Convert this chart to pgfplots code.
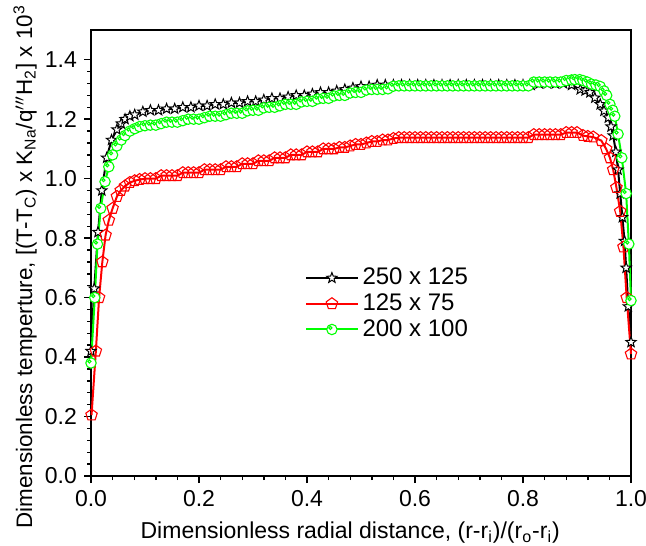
\documentclass[border=0pt]{standalone}
\usepackage{fontspec}
\setmainfont{Liberation Sans}
\usepackage{pgfplots}
\pgfplotsset{compat=1.18}

% circle with a small highlight ring inside (Origin style)
\pgfdeclareplotmark{dotcircle}{%
  \pgfpathcircle{\pgfpointorigin}{\pgfplotmarksize}\pgfusepathqfillstroke
  \pgfpathcircle{\pgfpoint{-0.3\pgfplotmarksize}{0.3\pgfplotmarksize}}{0.3\pgfplotmarksize}\pgfusepathqstroke}
% open five-pointed star
\pgfdeclareplotmark{ostar}{%
  \pgfpathmoveto{\pgfpointpolar{90}{\pgfplotmarksize}}%
  \pgfpathlineto{\pgfpointpolar{126}{0.42\pgfplotmarksize}}%
  \pgfpathlineto{\pgfpointpolar{162}{\pgfplotmarksize}}%
  \pgfpathlineto{\pgfpointpolar{198}{0.42\pgfplotmarksize}}%
  \pgfpathlineto{\pgfpointpolar{234}{\pgfplotmarksize}}%
  \pgfpathlineto{\pgfpointpolar{270}{0.42\pgfplotmarksize}}%
  \pgfpathlineto{\pgfpointpolar{306}{\pgfplotmarksize}}%
  \pgfpathlineto{\pgfpointpolar{342}{0.42\pgfplotmarksize}}%
  \pgfpathlineto{\pgfpointpolar{18}{\pgfplotmarksize}}%
  \pgfpathlineto{\pgfpointpolar{54}{0.42\pgfplotmarksize}}%
  \pgfpathclose\pgfusepathqfillstroke}

\definecolor{oriRed}{RGB}{255,0,0}
\definecolor{oriGreen}{RGB}{0,255,0}

\pgfplotstableread{
x y
0.000 0.42
0.006 0.63
0.013 0.82
0.020 0.96
0.029 1.07
0.038 1.13
0.048 1.165
0.056 1.185
0.063 1.20
0.072 1.21
0.081 1.215
0.096 1.225
0.110 1.23
0.125 1.23
0.140 1.235
0.155 1.235
0.170 1.24
0.185 1.24
0.200 1.245
0.215 1.245
0.230 1.25
0.245 1.25
0.260 1.255
0.275 1.255
0.290 1.26
0.305 1.26
0.320 1.265
0.335 1.27
0.350 1.27
0.365 1.275
0.380 1.28
0.395 1.28
0.410 1.285
0.425 1.29
0.440 1.29
0.455 1.295
0.470 1.30
0.485 1.305
0.500 1.31
0.515 1.31
0.530 1.315
0.545 1.315
0.560 1.315
0.575 1.315
0.590 1.315
0.605 1.315
0.620 1.315
0.635 1.315
0.650 1.315
0.665 1.315
0.680 1.315
0.695 1.315
0.710 1.315
0.725 1.315
0.740 1.315
0.755 1.315
0.770 1.315
0.785 1.315
0.800 1.315
0.815 1.315
0.830 1.32
0.845 1.32
0.860 1.32
0.875 1.32
0.890 1.315
0.906 1.30
0.915 1.296
0.924 1.29
0.933 1.272
0.943 1.25
0.950 1.228
0.958 1.205
0.963 1.175
0.967 1.145
0.972 1.09
0.976 1.03
0.980 0.95
0.984 0.87
0.988 0.79
0.991 0.70
0.995 0.57
1.000 0.45
}\blackdata

\pgfplotstableread{
x y
0.001 0.205
0.009 0.42
0.015 0.60
0.021 0.72
0.027 0.81
0.033 0.86
0.040 0.90
0.048 0.94
0.055 0.96
0.063 0.975
0.072 0.987
0.081 0.993
0.090 0.997
0.10 1.00
0.11 1.00
0.12 1.00
0.13 1.01
0.14 1.01
0.15 1.01
0.16 1.01
0.17 1.02
0.18 1.02
0.19 1.02
0.20 1.02
0.21 1.03
0.22 1.03
0.23 1.03
0.24 1.03
0.25 1.04
0.26 1.04
0.27 1.04
0.28 1.05
0.29 1.05
0.30 1.05
0.31 1.06
0.32 1.06
0.33 1.06
0.34 1.07
0.35 1.07
0.36 1.07
0.37 1.08
0.38 1.08
0.39 1.08
0.40 1.09
0.41 1.09
0.42 1.09
0.43 1.10
0.44 1.10
0.45 1.10
0.46 1.105
0.47 1.105
0.48 1.11
0.49 1.115
0.50 1.115
0.51 1.12
0.52 1.125
0.53 1.125
0.54 1.13
0.55 1.13
0.56 1.135
0.57 1.138
0.58 1.138
0.59 1.138
0.60 1.138
0.61 1.138
0.62 1.138
0.63 1.138
0.64 1.138
0.65 1.138
0.66 1.138
0.67 1.138
0.68 1.138
0.69 1.138
0.70 1.138
0.71 1.138
0.72 1.138
0.73 1.138
0.74 1.138
0.75 1.138
0.76 1.138
0.77 1.138
0.78 1.138
0.79 1.138
0.80 1.138
0.81 1.138
0.82 1.148
0.83 1.148
0.84 1.148
0.85 1.148
0.86 1.148
0.87 1.148
0.88 1.155
0.89 1.155
0.90 1.155
0.911 1.145
0.920 1.142
0.930 1.14
0.945 1.128
0.954 1.10
0.961 1.07
0.967 1.03
0.973 0.97
0.980 0.89
0.986 0.77
0.992 0.60
1.000 0.41
}\reddata

\pgfplotstableread{
x y
0.000 0.38
0.007 0.60
0.012 0.78
0.018 0.90
0.026 0.99
0.033 1.04
0.040 1.08
0.048 1.11
0.056 1.13
0.063 1.145
0.072 1.16
0.081 1.168
0.090 1.175
0.10 1.178
0.11 1.18
0.12 1.18
0.13 1.185
0.14 1.19
0.15 1.19
0.16 1.19
0.17 1.195
0.18 1.20
0.19 1.20
0.20 1.20
0.21 1.205
0.22 1.21
0.23 1.21
0.24 1.21
0.25 1.215
0.26 1.22
0.27 1.22
0.28 1.22
0.29 1.228
0.30 1.23
0.31 1.23
0.32 1.238
0.33 1.24
0.34 1.24
0.35 1.245
0.36 1.25
0.37 1.25
0.38 1.25
0.39 1.258
0.40 1.26
0.41 1.26
0.42 1.268
0.43 1.27
0.44 1.27
0.45 1.278
0.46 1.28
0.47 1.28
0.48 1.288
0.49 1.29
0.50 1.29
0.51 1.298
0.52 1.30
0.53 1.30
0.54 1.30
0.55 1.302
0.56 1.311
0.57 1.312
0.58 1.312
0.59 1.312
0.60 1.312
0.61 1.312
0.62 1.312
0.63 1.312
0.64 1.312
0.65 1.312
0.66 1.312
0.67 1.312
0.68 1.312
0.69 1.312
0.70 1.312
0.71 1.312
0.72 1.312
0.73 1.312
0.74 1.312
0.75 1.312
0.76 1.312
0.77 1.312
0.78 1.312
0.79 1.312
0.80 1.312
0.81 1.312
0.82 1.325
0.83 1.325
0.84 1.325
0.85 1.325
0.86 1.325
0.87 1.325
0.88 1.33
0.89 1.332
0.896 1.333
0.905 1.333
0.911 1.33
0.919 1.325
0.927 1.318
0.935 1.315
0.943 1.31
0.950 1.295
0.955 1.28
0.961 1.25
0.966 1.23
0.970 1.21
0.976 1.15
0.983 1.07
0.991 0.95
0.996 0.78
1.000 0.59
}\greendata

\begin{document}
\begin{tikzpicture}
\begin{axis}[
  scale only axis, width=270pt, height=223pt,
  xmin=0, xmax=1, ymin=0, ymax=1.5,
  xtick={0,0.2,...,1.0}, ytick={0,0.2,...,1.4},
  minor x tick num=4, minor y tick num=4,
  xtick pos=bottom, ytick pos=left, tick align=outside,
  major tick length=3.5pt, minor tick length=2pt,
  axis line style={line width=0.9pt},
  every tick/.style={black, line width=0.7pt},
  tick label style={font=\fontsize{11.5}{13}\selectfont},
  xticklabel style={/pgf/number format/.cd, fixed, fixed zerofill, precision=1, assume math mode=true},
  yticklabel style={/pgf/number format/.cd, fixed, fixed zerofill, precision=1, assume math mode=true},
  xlabel={Dimensionless radial distance, (r-r\textsubscript{i})/(r\textsubscript{o}-r\textsubscript{i})},
  ylabel={Dimensionless temperture, [(T-T\textsubscript{C}) x K\textsubscript{Na}/q\textsuperscript{$\prime\prime\prime$}H\textsubscript{2}] x 10\textsuperscript{3}},
  xlabel style={font=\fontsize{11.5}{13}\selectfont, at={(axis description cs:0.48,-0.127)}, anchor=center},
  ylabel style={font=\fontsize{11.2}{13}\selectfont, at={(axis description cs:-0.122,0.469)}, anchor=center},
  legend style={draw=none, fill=none, at={(axis description cs:0.385,0.485)}, anchor=north west,
    font=\fontsize{12}{14}\selectfont, row sep=-1pt},
  legend cell align=left,
  legend image code/.code={\draw[mark repeat=2,mark phase=2] plot coordinates {(0cm,0cm) (0.45cm,0cm) (0.9cm,0cm)};},
  clip=false,
]
\addplot[black, line width=1pt, mark=ostar, mark size=2.7pt,
  mark options={fill=white, line width=0.5pt}] table {\blackdata};
\addlegendentry{250 x 125}
\addplot[oriRed, line width=1pt, mark=pentagon, mark size=3pt,
  mark options={fill=white, line width=0.55pt}] table {\reddata};
\addlegendentry{125 x 75}
\addplot[oriGreen, line width=1pt, mark=dotcircle, mark size=2.6pt,
  mark options={fill=white, line width=0.55pt}] table {\greendata};
\addlegendentry{200 x 100}
\end{axis}
\pgfresetboundingbox
\useasboundingbox (-45.5pt,-34.5pt) rectangle (277.5pt,238pt);
\end{tikzpicture}
\end{document}
